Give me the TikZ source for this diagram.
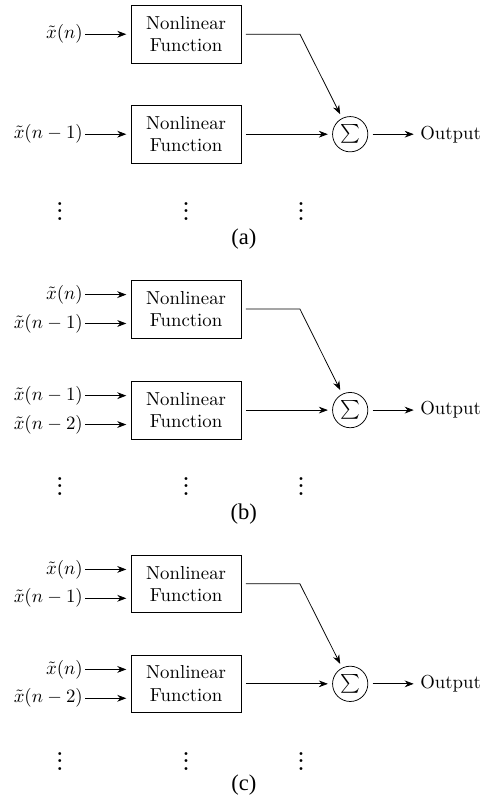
\documentclass[tikz,border=0pt]{standalone}
\usepackage{amsmath}
\usepackage{fontspec}
\usetikzlibrary{arrows.meta}
\usetikzlibrary{positioning}
\newfontfamily\capfont{Liberation Serif}
\tikzset{
  nlbox/.style={draw, align=center, minimum width=2.06cm, minimum height=1.08cm, outer sep=2.5pt},
  sumnode/.style={draw, circle, minimum size=0.66cm, inner sep=0pt, outer sep=2.5pt},
  innode/.style={anchor=east, inner sep=1pt},
  dotnode/.style={font=\bfseries},
  capnode/.style={font=\capfont\fontsize{12}{14}\selectfont}
}

\begin{document}
\begin{tikzpicture}[>={Stealth}]
\useasboundingbox (0,0) rectangle (9.16,-15.0);
% (a)
\node[nlbox] (a1) at (3.48,-0.64) {Nonlinear\\Function};
\node[nlbox] (a2) at (3.48,-2.51) {Nonlinear\\Function};
\node[sumnode] (asum) at (6.55,-2.51) {$\sum$};
\node[right=0.77cm of asum] (aout) {Output};
\node[innode] (ax1) at (1.59,-0.64) {$\tilde{x}(n)$};
\node[innode] (ax2) at (1.59,-2.51) {$\tilde{x}(n-1)$};
\coordinate (ac) at (5.61,-0.64);
\draw[->] (ax1) -- (a1);
\draw[->] (ax2) -- (a2);
\draw[->] (a1) -- (ac) -- (asum);
\draw[->] (a2) -- (asum);
\draw[->] (asum) -- (aout);
\node[dotnode] (ad1) at (1.12,-3.85) {$\vdots$};
\node[dotnode] (ad2) at (3.48,-3.85) {$\vdots$};
\node[dotnode] (ad3) at (5.63,-3.85) {$\vdots$};
\node[capnode] (acap) at (4.56,-4.47) {(a)};
% (b)
\node[nlbox] (b1) at (3.48,-5.78) {Nonlinear\\Function};
\node[nlbox] (b2) at (3.48,-7.67) {Nonlinear\\Function};
\node[sumnode] (bsum) at (6.55,-7.67) {$\sum$};
\node[right=0.77cm of bsum] (bout) {Output};
\node[innode] (bx1) at (1.59,-5.51) {$\tilde{x}(n)$};
\node[innode] (bx2) at (1.59,-6.05) {$\tilde{x}(n-1)$};
\node[innode] (bx3) at (1.59,-7.40) {$\tilde{x}(n-1)$};
\node[innode] (bx4) at (1.59,-7.94) {$\tilde{x}(n-2)$};
\coordinate (bc) at (5.61,-5.78);
\draw[->] (bx1) -- (bx1 -| b1.west);
\draw[->] (bx2) -- (bx2 -| b1.west);
\draw[->] (bx3) -- (bx3 -| b2.west);
\draw[->] (bx4) -- (bx4 -| b2.west);
\draw[->] (b1) -- (bc) -- (bsum);
\draw[->] (b2) -- (bsum);
\draw[->] (bsum) -- (bout);
\node[dotnode] (bd1) at (1.12,-8.99) {$\vdots$};
\node[dotnode] (bd2) at (3.48,-8.99) {$\vdots$};
\node[dotnode] (bd3) at (5.63,-8.99) {$\vdots$};
\node[capnode] (bcap) at (4.56,-9.61) {(b)};
% (c)
\node[nlbox] (c1) at (3.48,-10.92) {Nonlinear\\Function};
\node[nlbox] (c2) at (3.48,-12.79) {Nonlinear\\Function};
\node[sumnode] (csum) at (6.55,-12.79) {$\sum$};
\node[right=0.77cm of csum] (cout) {Output};
\node[innode] (cx1) at (1.59,-10.65) {$\tilde{x}(n)$};
\node[innode] (cx2) at (1.59,-11.19) {$\tilde{x}(n-1)$};
\node[innode] (cx3) at (1.59,-12.52) {$\tilde{x}(n)$};
\node[innode] (cx4) at (1.59,-13.06) {$\tilde{x}(n-2)$};
\coordinate (cc) at (5.61,-10.92);
\draw[->] (cx1) -- (cx1 -| c1.west);
\draw[->] (cx2) -- (cx2 -| c1.west);
\draw[->] (cx3) -- (cx3 -| c2.west);
\draw[->] (cx4) -- (cx4 -| c2.west);
\draw[->] (c1) -- (cc) -- (csum);
\draw[->] (c2) -- (csum);
\draw[->] (csum) -- (cout);
\node[dotnode] (cd1) at (1.12,-14.13) {$\vdots$};
\node[dotnode] (cd2) at (3.48,-14.13) {$\vdots$};
\node[dotnode] (cd3) at (5.63,-14.13) {$\vdots$};
\node[capnode] (ccap) at (4.56,-14.68) {(c)};
\end{tikzpicture}
\end{document}
